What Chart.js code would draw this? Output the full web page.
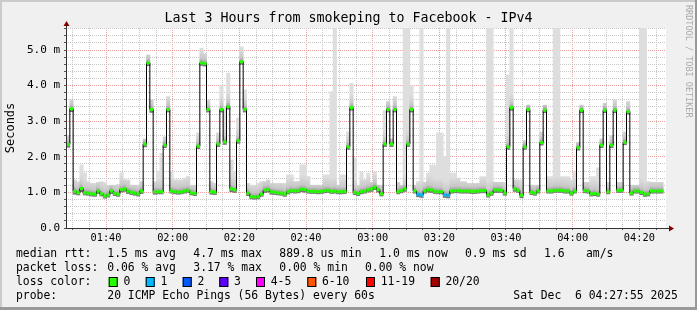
<!DOCTYPE html>
<html>
<head>
<meta charset="utf-8">
<script src="https://cdn.jsdelivr.net/npm/chart.js@4"></script>
<style>
  html, body { margin: 0; padding: 0; background: #f0f0f0; }
  canvas { display: block; }
</style>
</head>
<body>
<canvas id="smokeChart" width="697" height="310"></canvas>
<script>
// time axis in minutes of the day; window is 01:28 .. 04:28
const xMin = 88;
const xMax = 268;
const firstSample = 88.15; // start of the first 60s sample

// median rtt per sample (ms)
const median = [
  2.35, 3.35, 1.03, 0.99, 1.11, 0.99, 0.98, 0.96, 0.95, 1.04, 0.96, 0.90, 0.93, 1.04, 0.97, 0.95, 1.08, 1.10, 1.04, 1.00,
  0.98, 0.96, 1.04, 2.36, 4.64, 3.33, 1.02, 1.02, 1.02, 2.33, 3.33, 1.04, 1.02, 1.01, 1.02, 1.04, 1.06, 0.99, 0.97, 2.30,
  4.64, 4.62, 3.33, 1.02, 1.00, 2.36, 3.33, 2.42, 3.41, 1.10, 1.07, 2.45, 4.67, 3.33, 0.98, 0.88, 0.87, 0.88, 0.95, 1.07,
  1.08, 1.02, 1.00, 0.99, 0.98, 0.95, 1.02, 1.05, 1.04, 1.05, 1.09, 1.08, 1.04, 1.03, 1.03, 1.02, 1.03, 1.05, 1.06, 1.03,
  1.04, 1.02, 1.02, 1.03, 2.28, 3.38, 1.00, 0.97, 1.02, 1.04, 1.07, 1.10, 1.15, 1.08, 0.96, 2.36, 3.33, 2.36, 3.33, 1.02,
  1.05, 1.10, 2.36, 3.33, 1.04, 0.95, 0.93, 1.04, 1.08, 1.07, 1.03, 1.02, 1.02, 0.93, 0.92, 1.04, 1.05, 1.05, 1.04, 1.04,
  1.04, 1.03, 1.03, 1.04, 1.05, 1.05, 0.93, 0.98, 1.07, 1.07, 1.06, 0.98, 2.28, 3.38, 1.10, 1.06, 0.92, 2.28, 3.33, 1.00,
  0.98, 1.04, 2.40, 3.31, 1.04, 1.04, 1.06, 1.06, 1.06, 1.04, 1.04, 0.98, 1.04, 2.26, 3.31, 1.05, 1.04, 0.96, 0.97, 0.95,
  2.33, 3.31, 1.02, 2.33, 3.31, 1.06, 1.06, 2.41, 3.27, 0.98, 1.04, 1.04, 1.00, 0.95, 0.96, 1.04, 1.04, 1.04, 1.04
];

// smoke: fastest and slowest ping of each sample (ms)
const smokeLo = [
  2.27, 3.27, 0.95, 0.93, 1.02, 0.93, 0.92, 0.90, 0.89, 0.97, 0.90, 0.84, 0.87, 0.97, 0.91, 0.89, 1.01, 1.03, 0.97, 0.94,
  0.92, 0.90, 0.97, 2.28, 4.56, 3.25, 0.95, 0.96, 0.96, 2.26, 3.26, 0.98, 0.96, 0.95, 0.96, 0.98, 1.00, 0.93, 0.91, 2.23,
  4.57, 4.55, 3.26, 0.95, 0.94, 2.29, 3.26, 2.35, 3.34, 1.02, 1.00, 2.38, 4.60, 3.26, 0.91, 0.82, 0.81, 0.82, 0.89, 1.00,
  1.01, 0.95, 0.94, 0.93, 0.92, 0.89, 0.96, 0.99, 0.98, 0.99, 1.02, 1.01, 0.98, 0.97, 0.97, 0.96, 0.97, 0.99, 1.00, 0.97,
  0.98, 0.96, 0.96, 0.97, 2.21, 3.31, 0.94, 0.91, 0.96, 0.98, 1.01, 1.03, 1.08, 1.01, 0.90, 2.29, 3.26, 2.29, 3.26, 0.96,
  0.99, 1.03, 2.29, 3.26, 0.98, 0.88, 0.86, 0.98, 1.01, 1.00, 0.97, 0.96, 0.96, 0.86, 0.85, 0.98, 0.99, 0.99, 0.98, 0.98,
  0.98, 0.97, 0.97, 0.98, 0.99, 0.99, 0.87, 0.92, 1.00, 1.00, 1.00, 0.92, 2.21, 3.31, 1.03, 1.00, 0.85, 2.21, 3.26, 0.94,
  0.92, 0.98, 2.33, 3.24, 0.98, 0.98, 1.00, 1.00, 1.00, 0.98, 0.98, 0.92, 0.98, 2.19, 3.24, 0.99, 0.98, 0.90, 0.91, 0.89,
  2.26, 3.24, 0.96, 2.26, 3.24, 1.00, 1.00, 2.34, 3.20, 0.92, 0.98, 0.98, 0.94, 0.89, 0.90, 0.98, 0.98, 0.98, 0.98
];
const smokeHi = [
  2.60, 3.60, 1.35, 1.30, 1.77, 1.55, 1.30, 1.25, 1.25, 1.28, 1.30, 1.28, 1.20, 1.20, 1.20, 1.22, 1.55, 1.35, 1.35, 1.20,
  1.20, 1.20, 1.30, 2.50, 4.86, 3.60, 1.30, 1.60, 2.10, 2.56, 3.69, 1.58, 1.35, 1.35, 1.35, 1.40, 1.45, 1.20, 1.20, 2.67,
  5.05, 4.90, 3.60, 1.30, 1.25, 2.67, 4.00, 3.40, 4.35, 1.91, 1.60, 3.09, 5.09, 3.88, 1.25, 1.20, 1.20, 1.25, 1.30, 1.30,
  1.35, 1.25, 1.25, 1.25, 1.25, 1.25, 1.49, 1.49, 1.30, 1.30, 1.77, 1.77, 1.45, 1.20, 1.20, 1.20, 1.20, 1.49, 1.49, 3.83,
  5.70, 1.20, 1.49, 1.49, 2.70, 4.06, 1.97, 1.20, 1.58, 1.35, 1.54, 1.28, 1.58, 1.20, 1.20, 3.30, 3.55, 2.50, 3.69, 1.28,
  1.20, 5.70, 5.70, 4.00, 1.20, 1.30, 5.70, 1.28, 1.54, 1.77, 1.77, 2.67, 2.67, 2.00, 5.70, 1.54, 1.54, 1.40, 1.30, 1.30,
  1.25, 1.25, 1.25, 1.25, 1.44, 1.44, 5.70, 5.70, 1.28, 1.28, 1.28, 1.28, 4.30, 5.70, 1.35, 1.35, 1.35, 2.45, 3.45, 1.20,
  1.20, 1.20, 2.70, 3.45, 1.44, 1.44, 5.70, 5.70, 1.44, 1.44, 1.44, 1.35, 1.60, 2.40, 3.45, 1.28, 1.28, 1.44, 1.44, 1.69,
  2.50, 3.50, 1.28, 2.60, 3.60, 1.28, 1.28, 2.70, 3.55, 1.20, 1.20, 1.20, 5.70, 5.70, 1.30, 1.28, 1.28, 1.28, 1.28
];

// lost pings per sample (of 20)
const loss = [
  0, 0, 0, 0, 0, 0, 0, 0, 0, 0, 0, 0, 0, 0, 0, 0, 0, 0, 0, 0,
  0, 0, 0, 0, 0, 0, 0, 0, 0, 0, 0, 0, 0, 0, 0, 0, 0, 0, 0, 0,
  0, 0, 0, 0, 0, 0, 0, 0, 0, 0, 0, 0, 0, 0, 0, 0, 0, 0, 0, 0,
  0, 0, 0, 0, 0, 0, 0, 0, 0, 0, 0, 0, 0, 0, 0, 0, 0, 0, 0, 0,
  0, 0, 0, 0, 0, 0, 0, 0, 0, 0, 0, 0, 0, 0, 0, 0, 0, 0, 0, 0,
  0, 0, 0, 0, 0, 1, 1, 0, 0, 0, 0, 0, 0, 1, 1, 0, 0, 0, 0, 0,
  0, 0, 0, 0, 0, 0, 0, 0, 0, 0, 0, 0, 0, 0, 0, 0, 0, 0, 0, 0,
  0, 0, 0, 0, 0, 0, 0, 0, 0, 0, 0, 0, 0, 0, 0, 0, 0, 0, 0, 0,
  0, 0, 0, 0, 0, 0, 0, 0, 0, 0, 0, 0, 0, 0, 0, 0, 0, 0, 0
];

const lossLabels = ['0', '1', '2', '3', '4-5', '6-10', '11-19', '20/20'];
const lossColors = ['#26ff00', '#00b8ff', '#0059ff', '#5e00ff', '#ff00ff', '#ff5500', '#ff0000', '#a10000'];

const rttStats = ['1.5 ms avg', '4.7 ms max', '889.8 us min', '1.0 ms now', '0.9 ms sd', '1.6', 'am/s'];
const lossStats = ['0.06 % avg', '3.17 % max', '0.00 % min', '0.00 % now'];
const probeText = '20 ICMP Echo Pings (56 Bytes) every 60s';
const stampText = 'Sat Dec  6 04:27:55 2025';

const mono = 'DejaVu Sans Mono';
const minorGrid = '#c6c6c6';
const majorGrid = '#eba0a0';

function lossColor(n) {
  if (n <= 3) return lossColors[n];
  if (n <= 5) return lossColors[4];
  if (n <= 10) return lossColors[5];
  if (n <= 19) return lossColors[6];
  return lossColors[7];
}

function hhmm(v) {
  return String(Math.floor(v / 60)).padStart(2, '0') + ':' + String(v % 60).padStart(2, '0');
}

const smokeData = median.map((m, i) => ({ x: firstSample + i + 0.5, y: [smokeLo[i], smokeHi[i]] }));
const lineData = median.map((m, i) => ({ x: firstSample + i, y: m }));
lineData.push({ x: firstSample + median.length, y: median[median.length - 1] });
const dotData = median.map((m, i) => ({ x: firstSample + i + 0.5, y: m }));

// smoke gets darker close to the median, like smokeping's layered pings
function smokeFill(ctx) {
  const chart = ctx.chart;
  if (!chart.chartArea || ctx.dataIndex === undefined) return '#dcdcdc';
  const y = chart.scales.y.getPixelForValue(median[ctx.dataIndex]);
  const g = chart.ctx.createLinearGradient(0, y + 3, 0, y - 14);
  g.addColorStop(0, '#6a6a6a');
  g.addColorStop(0.2, '#9c9c9c');
  g.addColorStop(0.45, '#c8c8c8');
  g.addColorStop(1, '#dedede');
  return g;
}

const decorations = {
  id: 'decorations',
  beforeDraw(chart) {
    const c = chart.ctx;
    const a = chart.chartArea;
    c.save();
    c.fillStyle = '#f0f0f0';
    c.fillRect(0, 0, chart.width, chart.height);
    c.fillStyle = '#ffffff';
    c.fillRect(a.left, a.top, a.right - a.left, a.bottom - a.top);
    c.restore();
  },
  afterDraw(chart) {
    const c = chart.ctx;
    const a = chart.chartArea;
    c.save();

    // axes with arrows
    c.strokeStyle = '#333333';
    c.lineWidth = 1;
    c.beginPath();
    c.moveTo(a.left + 0.5, a.bottom);
    c.lineTo(a.left + 0.5, a.top - 2);
    c.moveTo(a.left, a.bottom + 0.5);
    c.lineTo(a.right + 3, a.bottom + 0.5);
    c.stroke();
    c.fillStyle = '#7f0000';
    c.beginPath();
    c.moveTo(a.left + 0.5, a.top - 7);
    c.lineTo(a.left - 2.5, a.top - 2);
    c.lineTo(a.left + 3.5, a.top - 2);
    c.closePath();
    c.fill();
    c.beginPath();
    c.moveTo(a.right + 8, a.bottom + 0.5);
    c.lineTo(a.right + 3, a.bottom - 2.5);
    c.lineTo(a.right + 3, a.bottom + 3.5);
    c.closePath();
    c.fill();

    // legend block
    c.font = '11.4px "' + mono + '"';
    c.fillStyle = '#000000';
    c.textBaseline = 'middle';
    c.textAlign = 'left';
    const rows = [254.5, 268.3, 282, 295.8];
    c.fillText('median rtt:', 16, rows[0]);
    [107.3, 193.3, 279.3, 379.3, 465, 544, 586].forEach((x, i) => c.fillText(rttStats[i], x, rows[0]));
    c.fillText('packet loss:', 16, rows[1]);
    [107.3, 193.3, 279.3, 365].forEach((x, i) => c.fillText(lossStats[i], x, rows[1]));
    c.fillText('loss color:', 16, rows[2]);
    [108.7, 145.7, 182.7, 219.3, 256, 307.3, 366, 430.7].forEach((x, i) => {
      c.fillStyle = lossColors[i];
      c.fillRect(x, rows[2] - 5, 9, 10);
      c.strokeStyle = '#000000';
      c.strokeRect(x + 0.5, rows[2] - 4.5, 8, 9);
      c.fillStyle = '#000000';
      c.fillText(lossLabels[i], x + 14.7, rows[2]);
    });
    c.fillText('probe:', 16, rows[3]);
    c.fillText(probeText, 107.3, rows[3]);
    c.fillText(stampText, 513.3, rows[3]);

    // credit on the right edge
    c.save();
    c.translate(688, 5);
    c.rotate(Math.PI / 2);
    c.font = '8.5px "' + mono + '"';
    c.fillStyle = '#aaaaaa';
    c.fillText('RRDTOOL / TOBI OETIKER', 0, 0);
    c.restore();

    // 3d frame
    c.fillStyle = '#cbcbcb';
    c.fillRect(0, 0, chart.width, 2);
    c.fillRect(0, 0, 2, chart.height);
    c.fillStyle = '#999999';
    c.fillRect(0, chart.height - 3, chart.width, 3);
    c.fillRect(chart.width - 2, 0, 2, chart.height);
    c.restore();
  }
};

new Chart(document.getElementById('smokeChart'), {
  type: 'bar',
  data: {
    datasets: [
      {
        type: 'scatter',
        label: 'median',
        data: dotData,
        order: 1,
        showLine: false,
        pointStyle: 'line',
        pointRadius: 1.7,
        pointBorderWidth: 3,
        pointBorderColor: ctx => lossColor(loss[ctx.dataIndex] || 0),
        pointHoverRadius: 1.7
      },
      {
        type: 'line',
        label: 'median step',
        data: lineData,
        order: 2,
        stepped: true,
        borderColor: '#000000',
        borderWidth: 1,
        pointRadius: 0,
        fill: false
      },
      {
        type: 'bar',
        label: 'smoke',
        data: smokeData,
        order: 3,
        grouped: false,
        barPercentage: 1,
        categoryPercentage: 1,
        borderWidth: 0,
        inflateAmount: 0.4,
        backgroundColor: smokeFill
      }
    ]
  },
  options: {
    responsive: false,
    devicePixelRatio: 1,
    animation: false,
    events: [],
    layout: { padding: { left: 0, right: 0, top: 0, bottom: 0 } },
    plugins: {
      legend: { display: false },
      tooltip: { enabled: false },
      title: {
        display: true,
        text: 'Last 3 Hours from smokeping to Facebook - IPv4',
        color: '#000000',
        font: { family: mono, size: 13.3, weight: 'normal' },
        padding: { top: 11, bottom: 1 }
      }
    },
    scales: {
      x: {
        type: 'linear',
        min: xMin,
        max: xMax,
        offset: false,
        afterBuildTicks: scale => {
          const t = [];
          for (let v = 90; v < xMax; v += 5) t.push({ value: v });
          scale.ticks = t;
        },
        afterFit: scale => { scale.height = 82; },
        ticks: {
          autoSkip: false,
          maxRotation: 0,
          padding: 2,
          color: '#000000',
          font: { family: mono, size: 10.3 },
          callback: v => (v % 20 === 0 ? hhmm(v) : '')
        },
        grid: {
          offset: false,
          drawTicks: true,
          tickLength: 2,
          tickColor: '#555555',
          color: ctx => (ctx.tick && ctx.tick.value % 20 === 0 ? majorGrid : minorGrid)
        },
        border: { display: false, dash: [1, 1] }
      },
      y: {
        min: 0,
        max: 5.62,
        afterBuildTicks: scale => {
          const t = [];
          for (let i = 0; i <= 28; i++) t.push({ value: i / 5 });
          scale.ticks = t;
        },
        afterFit: scale => { scale.width = 66; },
        title: {
          display: true,
          text: 'Seconds',
          color: '#000000',
          font: { family: mono, size: 12 },
          padding: { top: 4, bottom: 0 }
        },
        ticks: {
          autoSkip: false,
          padding: 4,
          color: '#000000',
          font: { family: mono, size: 11 },
          callback: v => {
            if (Math.abs(v - Math.round(v)) > 1e-6) return '';
            return v === 0 ? '0.0' : v.toFixed(1) + ' m';
          }
        },
        grid: {
          drawTicks: true,
          tickLength: 2,
          tickColor: '#555555',
          color: ctx => (ctx.tick && Math.abs(ctx.tick.value - Math.round(ctx.tick.value)) < 1e-6 ? majorGrid : minorGrid)
        },
        border: { display: false, dash: [1, 1] }
      },
      yRight: {
        position: 'right',
        display: true,
        afterFit: scale => { scale.width = 31; },
        ticks: { display: false },
        grid: { display: false, drawTicks: false },
        border: { display: false }
      }
    }
  },
  plugins: [decorations]
});
</script>
</body>
</html>
